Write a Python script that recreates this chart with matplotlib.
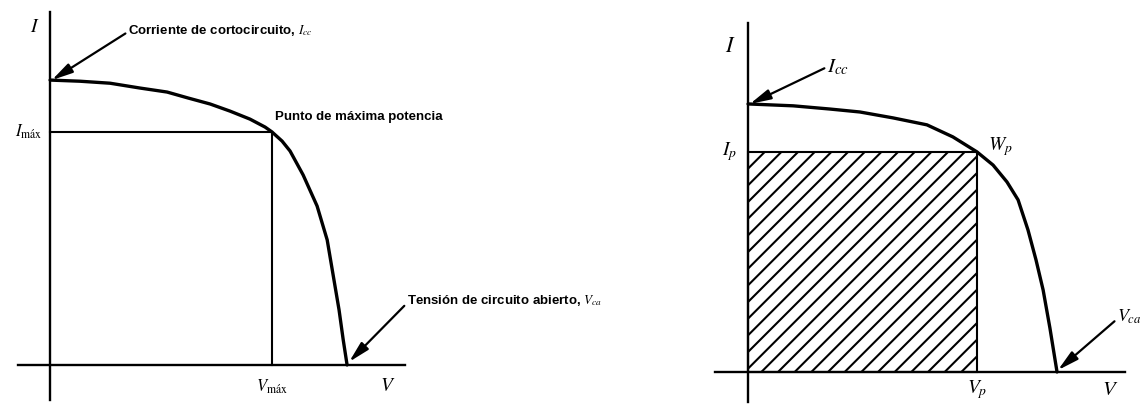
import numpy as np
import matplotlib
matplotlib.use("Agg")
import matplotlib.pyplot as plt
from matplotlib import rcParams

rcParams["font.family"] = ["Liberation Sans Narrow", "Liberation Sans", "DejaVu Sans"]
rcParams["mathtext.fontset"] = "stix"
rcParams["hatch.linewidth"] = 1.5

# ---------------------------------------------------------------- curve data
# I-V curve of the cell, normalised: V / V_ca and I / I_cc
v_left = [0.0, 0.101, 0.202, 0.303, 0.394, 0.465, 0.539, 0.606, 0.673, 0.724,
          0.747, 0.781, 0.808, 0.852, 0.899, 0.933, 0.953, 0.973, 0.987, 1.0]
i_left = [1.0, 0.996, 0.989, 0.972, 0.958, 0.937, 0.916, 0.891, 0.863, 0.835,
          0.818, 0.786, 0.751, 0.667, 0.558, 0.439, 0.316, 0.193, 0.088, 0.0]
v_max, i_max = 0.747, 0.818

v_right = [0.0, 0.146, 0.265, 0.362, 0.469, 0.579, 0.663, 0.741, 0.793, 0.838,
           0.874, 0.906, 0.932, 0.955, 0.977, 1.0]
i_right = [1.0, 0.993, 0.981, 0.970, 0.948, 0.922, 0.877, 0.821, 0.772, 0.709,
           0.642, 0.530, 0.418, 0.306, 0.164, 0.0]
v_p, i_p = 0.741, 0.821

W, H = 1141, 409
fig = plt.figure(figsize=(W / 100, H / 100), dpi=100)


def make_axes(px0, px1, py0, py1, xlim, ylim):
    # axes box given in pixels from top-left corner
    ax = fig.add_axes([px0 / W, 1 - py1 / H, (px1 - px0) / W, (py1 - py0) / H])
    ax.set_xlim(*xlim)
    ax.set_ylim(*ylim)
    for s in ("top", "right"):
        ax.spines[s].set_visible(False)
    ax.spines["left"].set_position(("data", 0))
    ax.spines["bottom"].set_position(("data", 0))
    for s in ("left", "bottom"):
        ax.spines[s].set_linewidth(1.7)
    ax.set_xticks([])
    ax.set_yticks([])
    ax.patch.set_alpha(0)
    return ax


arrow = dict(arrowstyle="-|>,head_length=0.9,head_width=0.22", lw=1.6,
             color="black", shrinkA=0, shrinkB=0, mutation_scale=14)
label_kw = dict(fontsize=9.5, fontweight="bold", va="center", ha="left")

# ---------------------------------------------------------------- left panel
ax1 = make_axes(18, 405, 12, 400, (-0.108, 1.195), (-0.123, 1.239))
ax1.plot(v_left, i_left, color="black", lw=2.4, solid_capstyle="round",
         solid_joinstyle="round")
ax1.plot([0, v_max], [i_max, i_max], color="black", lw=1.5)
ax1.plot([v_max, v_max], [0, i_max], color="black", lw=1.5)

ax1.annotate("Corriente de cortocircuito, $I_{cc}$", xy=(v_left[0] + 0.006, i_left[0]),
             xytext=(0.263, 1.175), arrowprops=dict(arrow, relpos=(0, 0.4)),
             **label_kw)
ax1.text(0.758, 0.870, "Punto de máxima potencia", **label_kw)
ax1.annotate("Tensión de circuito abierto, $V_{ca}$", xy=(v_left[-1] + 0.007, 0.011),
             xytext=(1.202, 0.228), arrowprops=dict(arrow, relpos=(0, 0.3)),
             annotation_clip=False, **label_kw)
ax1.text(-0.05, 1.186, "$I$", fontsize=14, ha="center", va="center")
ax1.text(-0.025, i_max, r"$I_{\mathrm{máx}}$", fontsize=12, ha="right", va="center")
ax1.text(v_max, -0.075, r"$V_{\mathrm{máx}}$", fontsize=12, ha="center", va="center")
ax1.text(1.138, -0.075, "$V$", fontsize=14, ha="center", va="center")

# --------------------------------------------------------------- right panel
ax2 = make_axes(715, 1125, 23, 402, (-0.107, 1.220), (-0.112, 1.302))
ax2.bar(0, i_p, width=v_p, align="edge", facecolor="white", edgecolor="black",
        hatch="//", lw=1.5)
ax2.plot(v_right, i_right, color="black", lw=2.4, solid_capstyle="round",
         solid_joinstyle="round")

ax2.annotate("$I_{cc}$", xy=(v_right[0] + 0.006, i_right[0]), xytext=(0.256, 1.138),
             arrowprops=dict(arrow, relpos=(0, 0.5)), fontsize=15,
             ha="left", va="center")
ax2.annotate("$V_{ca}$", xy=(v_right[-1] + 0.003, 0.007), xytext=(1.195, 0.205),
             arrowprops=dict(arrow, relpos=(0, 0.4)), fontsize=13,
             ha="left", va="center", annotation_clip=False)
ax2.text(-0.058, 1.213, "$I$", fontsize=16, ha="center", va="center")
ax2.text(-0.036, i_p, "$I_p$", fontsize=14, ha="right", va="center")
ax2.text(0.777, 0.840, "$W_p$", fontsize=14, ha="left", va="center")
ax2.text(v_p, -0.067, "$V_p$", fontsize=14, ha="center", va="center")
ax2.text(1.172, -0.067, "$V$", fontsize=15, ha="center", va="center")

fig.savefig("out.png", dpi=100, facecolor="white")
